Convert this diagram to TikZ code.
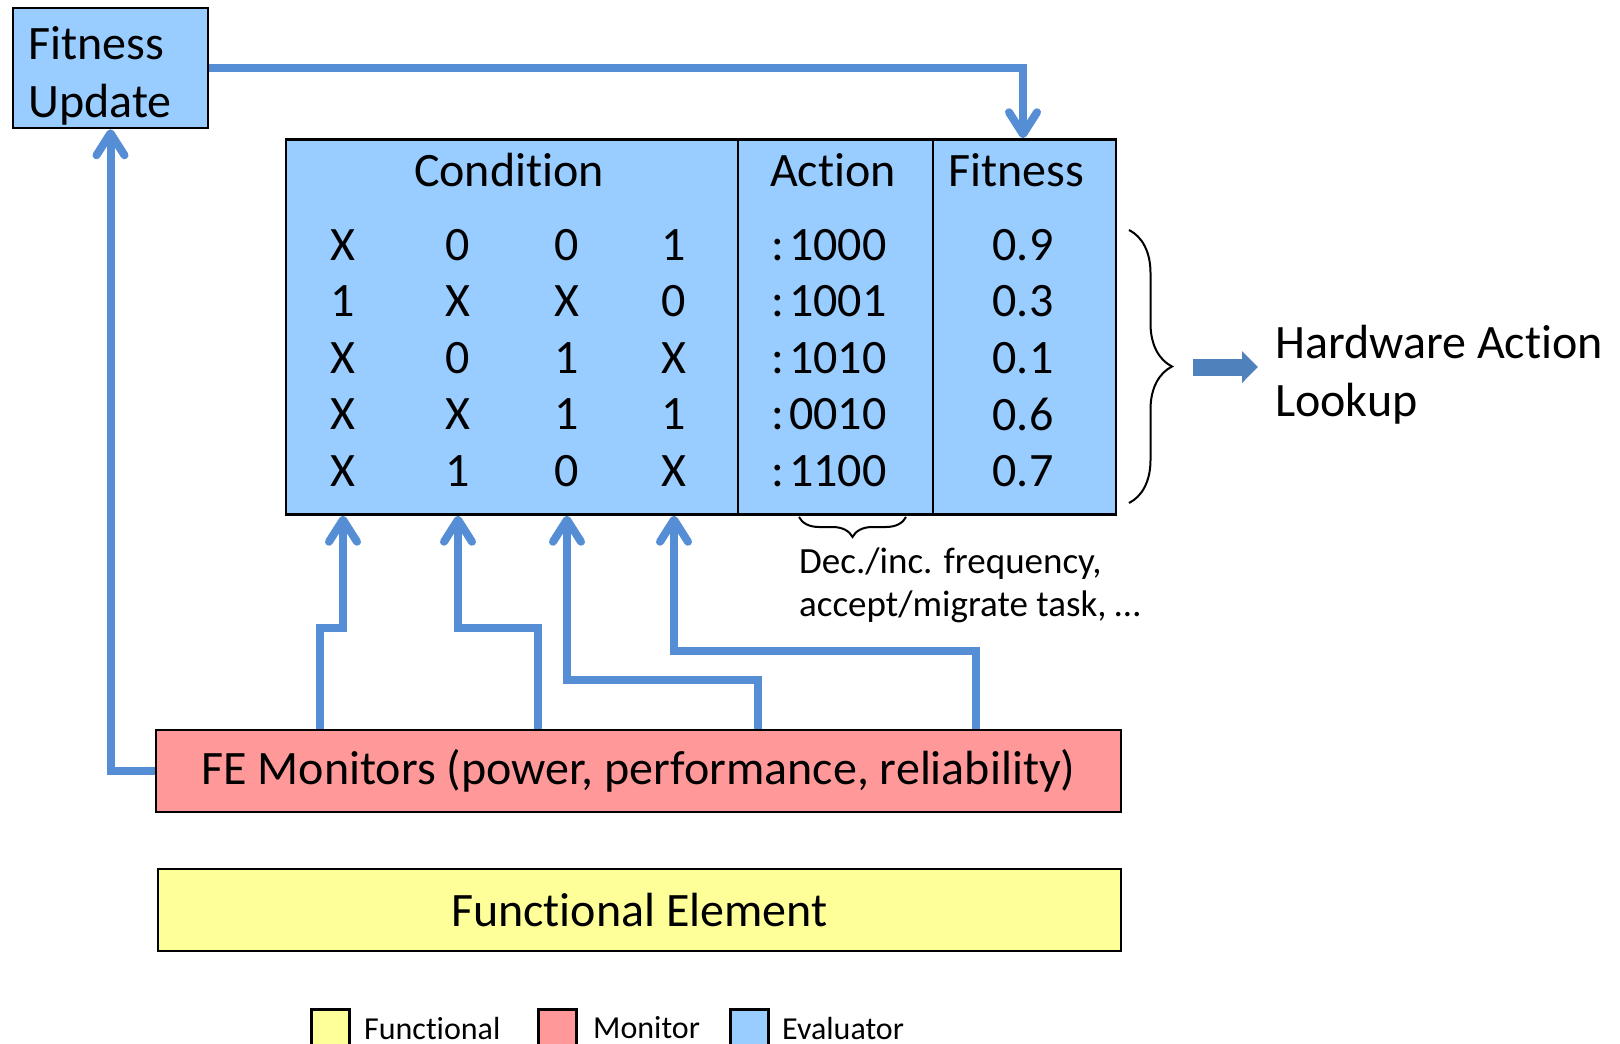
\documentclass[tikz,border=0pt]{standalone}
\usepackage{fontspec}
\setmainfont{Carlito}[Ligatures={NoCommon}]
\usetikzlibrary{arrows.meta,decorations.pathreplacing}
\definecolor{evalblue}{HTML}{99CCFF}
\definecolor{monred}{HTML}{FF9999}
\definecolor{funcyellow}{HTML}{FFFF99}
\definecolor{linkblue}{HTML}{558ED5}
\definecolor{fatblue}{HTML}{4F81BD}
\begin{document}
\begin{tikzpicture}[x=1pt, y=-1pt, >={Straight Barb[length=22pt,width=28pt,round]}]
        \tikzstyle{box}=[draw, line width=2.5pt, inner sep=0pt]
        \tikzstyle{big}=[font=\fontsize{48}{58}\selectfont]
        \tikzstyle{cell}=[big, inner sep=0pt]
        \tikzstyle{link}=[->, draw=linkblue, line width=8pt]
        \tikzstyle{brace}=[draw, line width=2pt, decorate]
        \tikzstyle{legend}=[inner sep=0pt, anchor=west, font=\fontsize{32}{38}\selectfont]

        \useasboundingbox (0,0) rectangle (1620,1044);

        \node[box, big, fill=evalblue, minimum width=195pt, minimum height=120pt, text width=164pt, align=left](fu) at (110.5,68){\rule{0pt}{48pt}Fitness\\Update};
        \node[box, fill=evalblue, minimum width=830pt, minimum height=375pt](tab) at (701,327){};
        \draw[line width=2pt] (tab.north -| 738,0) -- (tab.south -| 738,0);
        \draw[line width=2pt] (tab.north -| 933,0) -- (tab.south -| 933,0);

        \node[cell](cond) at (509,170){Condition};
        \node[cell](act) at (833,170){Action};
        \node[cell](fit) at (1016,170){Fitness};

        \foreach \ca/\cb/\cc/\cd/\act/\fit [count=\i] in {X/0/0/1/1000/0.9, 1/X/X/0/1001/0.3, X/0/1/X/1010/0.1, X/X/1/1/0010/0.6, X/1/0/X/1100/0.7} {
            \node[cell](c\i-1) at (343,{245+56.5*(\i-1)}){\ca};
            \node[cell](c\i-2) at (458,{245+56.5*(\i-1)}){\cb};
            \node[cell](c\i-3) at (567,{245+56.5*(\i-1)}){\cc};
            \node[cell](c\i-4) at (674,{245+56.5*(\i-1)}){\cd};
            \node[cell](a\i) at (829,{245+56.5*(\i-1)}){:\hspace{5pt}\act};
            \node[cell](f\i) at (1023,{245+56.5*(\i-1)}){\fit};
        }

        \node[box, big, fill=monred, minimum width=965pt, minimum height=82pt](mon) at (638.5,771){FE Monitors (power, performance, reliability)};
        \node[box, big, fill=funcyellow, minimum width=963pt, minimum height=82pt](fe) at (639.5,910){Functional Element};

        \draw[link] (fu.east) -| (tab.north -| f1);
        \draw[link] (mon.west) -| (fu.south);
        \draw[link] (mon.north -| 320,0) |- (c5-1 |- 0,628) -- (tab.south -| c5-1);
        \draw[link] (mon.north -| 538,0) |- (c5-2 |- 0,628) -- (tab.south -| c5-2);
        \draw[link] (mon.north -| 758,0) |- (c5-3 |- 0,680) -- (tab.south -| c5-3);
        \draw[link] (mon.north -| 976,0) |- (c5-4 |- 0,651) -- (tab.south -| c5-4);

        \draw[brace, decoration={brace, amplitude=43pt, aspect=0.5}] (1129,230) -- (1129,503);
        \draw[brace, decoration={brace, amplitude=20pt}] (906,517) -- (799,517);

        \node[cell, anchor=west, align=left](hw) at (1275,375){Hardware Action\\Lookup};
        \coordinate (hwtail) at (1193,367);
        \draw[fatblue, line width=17pt, -{Triangle[length=16pt,width=31pt]}, shorten >=17pt] (hwtail) -- (hw.west |- hwtail);

        \node[cell, anchor=west, align=left, font=\fontsize{37}{43}\selectfont](note) at (799,585){Dec./inc. frequency,\\accept/migrate task, \dots};

        \node[box, fill=funcyellow, minimum width=38pt, minimum height=44pt, anchor=north west](lf) at (310,1008){};
        \node[legend](lft) at (364,1028){Functional};
        \node[box, fill=monred, minimum width=38pt, minimum height=44pt, anchor=north west](lm) at (537,1008){};
        \node[legend](lmt) at (593,1028){Monitor};
        \node[box, fill=evalblue, minimum width=38pt, minimum height=44pt, anchor=north west](le) at (729,1008){};
        \node[legend](let) at (782,1028){Evaluator};
\end{tikzpicture}
\end{document}
